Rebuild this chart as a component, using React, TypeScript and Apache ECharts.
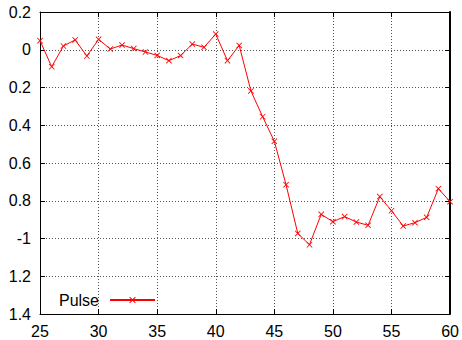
import React, { useEffect, useRef } from "react";
import * as echarts from "echarts";

const xValues = [25, 26, 27, 28, 29, 30, 31, 32, 33, 34, 35, 36, 37, 38, 39, 40, 41, 42, 43, 44, 45, 46, 47, 48, 49, 50, 51, 52, 53, 54, 55, 56, 57, 58, 59, 60];
const pulse = [0.048, -0.09, 0.02, 0.052, -0.033, 0.055, 0.004, 0.025, 0.006, -0.012, -0.03, -0.058, -0.031, 0.03, 0.013, 0.083, -0.058, 0.023, -0.218, -0.355, -0.485, -0.715, -0.973, -1.033, -0.872, -0.911, -0.884, -0.913, -0.93, -0.778, -0.853, -0.934, -0.916, -0.888, -0.736, -0.805];
// y tick labels as printed, bottom to top
const yTickLabels = ["1.4", "1.2", "-1", "0.8", "0.6", "0.4", "0.2", "0", "0.2"];
const xTicks = [25, 30, 35, 40, 45, 50, 55, 60];

const crossSymbol = "path://M0,1L1,0L5,4L9,0L10,1L6,5L10,9L9,10L5,6L1,10L0,9L4,5Z";
const FONT = "Liberation Sans, Arial, sans-serif";

export default function App() {
  const ref = useRef<HTMLDivElement>(null);
  useEffect(() => {
    const chart = echarts.init(ref.current!, null, { renderer: "svg" });
    const gridLine = { show: true, lineStyle: { color: "#555", type: [1, 2] as any, width: 1 } };
    const tick = { show: true, inside: true, length: 5, lineStyle: { color: "#000" } };
    chart.setOption({
      animation: false,
      backgroundColor: "#fff",
      grid: { left: 40, right: 10, top: 12, bottom: 26, containLabel: false },
      legend: {
        data: ["Pulse"],
        align: "right",
        left: 54,
        bottom: 27,
        itemWidth: 45,
        itemHeight: 8,
        itemGap: 0,
        textStyle: { fontFamily: FONT, fontSize: 16, color: "#000", padding: [0, 6, 0, 0] },
      },
      xAxis: [
        {
          type: "value",
          min: 25,
          max: 60,
          interval: 5,
          axisLine: { show: true, onZero: false, lineStyle: { color: "#000", width: 1 } },
          axisTick: tick,
          axisLabel: {
            fontFamily: FONT,
            fontSize: 16,
            color: "#000",
            margin: 9,
            formatter: (v: number) => (xTicks.includes(v) ? String(v) : ""),
          },
          splitLine: gridLine,
        },
        {
          type: "value",
          position: "top",
          min: 25,
          max: 60,
          interval: 5,
          axisLine: { show: true, onZero: false, lineStyle: { color: "#000", width: 1 } },
          axisTick: tick,
          axisLabel: { show: false },
          splitLine: { show: false },
        },
      ],
      yAxis: [
        {
          type: "value",
          min: -1.4,
          max: 0.2,
          interval: 0.2,
          axisLine: { show: true, onZero: false, lineStyle: { color: "#000", width: 1 } },
          axisTick: tick,
          axisLabel: {
            fontFamily: FONT,
            fontSize: 16,
            color: "#000",
            margin: 9,
            formatter: (_v: number, i: number) => yTickLabels[i] ?? "",
          },
          splitLine: gridLine,
        },
        {
          type: "value",
          position: "right",
          min: -1.4,
          max: 0.2,
          interval: 0.2,
          axisLine: { show: true, onZero: false, lineStyle: { color: "#000", width: 2 } },
          axisTick: tick,
          axisLabel: { show: false },
          splitLine: { show: false },
        },
      ],
      series: [
        {
          name: "Pulse",
          type: "line",
          xAxisIndex: 0,
          yAxisIndex: 0,
          data: xValues.map((x, i) => [x, pulse[i]]),
          symbol: crossSymbol,
          symbolSize: 6,
          showSymbol: true,
          lineStyle: { color: "#ff0000", width: 1 },
          itemStyle: { color: "#ff0000" },
          clip: false,
        },
      ],
    });
    return () => chart.dispose();
  }, []);
  return <div ref={ref} style={{ width: 462, height: 340, position: "absolute", left: 0, top: 0 }} />;
}
